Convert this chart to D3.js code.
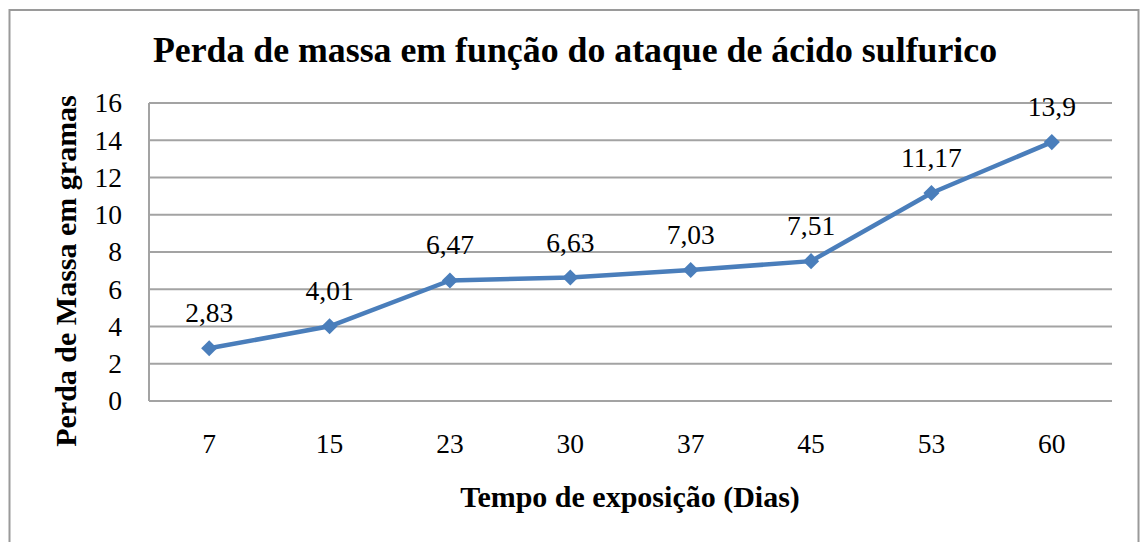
<!DOCTYPE html>
<html><head><meta charset="utf-8">
<script src="https://cdn.jsdelivr.net/npm/d3@7"></script>
<style>body{margin:0;background:#fff}svg{display:block}</style>
</head><body>
<script>
const categories = ["7","15","23","30","37","45","53","60"];
const values = [2.83, 4.01, 6.47, 6.63, 7.03, 7.51, 11.17, 13.9];
const labels = ["2,83","4,01","6,47","6,63","7,03","7,51","11,17","13,9"];
const yTicks = [0,2,4,6,8,10,12,14,16];
const title = "Perda de massa em função do ataque de ácido sulfurico";
const xTitle = "Tempo de exposição (Dias)";
const yTitle = "Perda de Massa em gramas";

const W = 1140, H = 542;
const m = {left:149, right:1112, top:103, bottom:401};
const font = "'Liberation Serif','Times New Roman',serif";
const svg = d3.select("body").append("svg").attr("width",W).attr("height",H);
svg.append("rect").attr("x",0).attr("y",0).attr("width",W).attr("height",H).attr("fill","#fff");
svg.append("rect").attr("x",9.5).attr("y",10).attr("width",1129).attr("height",540)
  .attr("fill","none").attr("stroke","#9a9a9a").attr("stroke-width",2);

const x = d3.scaleBand().domain(categories).range([m.left,m.right]);
const y = d3.scaleLinear().domain([0,16]).range([m.bottom,m.top]);

// gridlines
svg.append("g").selectAll("line").data(yTicks).join("line")
  .attr("x1",m.left).attr("x2",m.right).attr("y1",d=>y(d)).attr("y2",d=>y(d))
  .attr("stroke","#a3a3a3").attr("stroke-width",2);
// left axis line
svg.append("line").attr("x1",m.left).attr("x2",m.left).attr("y1",m.top).attr("y2",m.bottom)
  .attr("stroke","#a3a3a3").attr("stroke-width",2);

// y axis labels
const yAxis = d3.axisLeft(y).tickValues(yTicks).tickSize(0).tickPadding(27).tickFormat(d3.format("d"));
const gy = svg.append("g").attr("transform",`translate(${m.left},0)`).call(yAxis);
gy.select(".domain").remove();
gy.attr("font-family",font).attr("font-size",27.5);
gy.selectAll("text").attr("fill","#000");

// x axis labels
const xAxis = d3.axisBottom(x).tickSize(0).tickPadding(32);
const gx = svg.append("g").attr("transform",`translate(0,${m.bottom})`).call(xAxis);
gx.select(".domain").remove();
gx.attr("font-family",font).attr("font-size",27.5);
gx.selectAll("text").attr("fill","#000");

// line
const pts = categories.map((c,i)=>({c, v:values[i], l:labels[i]}));
const line = d3.line().x(d=>x(d.c)+x.bandwidth()/2).y(d=>y(d.v));
svg.append("path").datum(pts).attr("d",line).attr("fill","none")
  .attr("stroke","#4a7ebb").attr("stroke-width",4.5).attr("stroke-linejoin","round");
svg.append("g").selectAll("path").data(pts).join("path")
  .attr("d",d3.symbol().type(d3.symbolDiamond2).size(165))
  .attr("transform",d=>`translate(${x(d.c)+x.bandwidth()/2},${y(d.v)})`)
  .attr("fill","#4a7ebb");

// data labels
svg.append("g").selectAll("text").data(pts).join("text")
  .attr("x",d=>x(d.c)+x.bandwidth()/2).attr("y",d=>y(d.v)-26)
  .attr("text-anchor","middle").attr("font-family",font).attr("font-size",27.5).attr("fill","#000")
  .text(d=>d.l);

// titles
svg.append("text").attr("x",575).attr("y",62).attr("text-anchor","middle")
  .attr("font-family",font).attr("font-weight","bold").attr("font-size",35.8).text(title);
svg.append("text").attr("x",630).attr("y",507).attr("text-anchor","middle")
  .attr("font-family",font).attr("font-weight","bold").attr("font-size",30).text(xTitle);
svg.append("text").attr("transform","translate(76,271) rotate(-90)").attr("text-anchor","middle")
  .attr("font-family",font).attr("font-weight","bold").attr("font-size",30).text(yTitle);
</script>
</body></html>
